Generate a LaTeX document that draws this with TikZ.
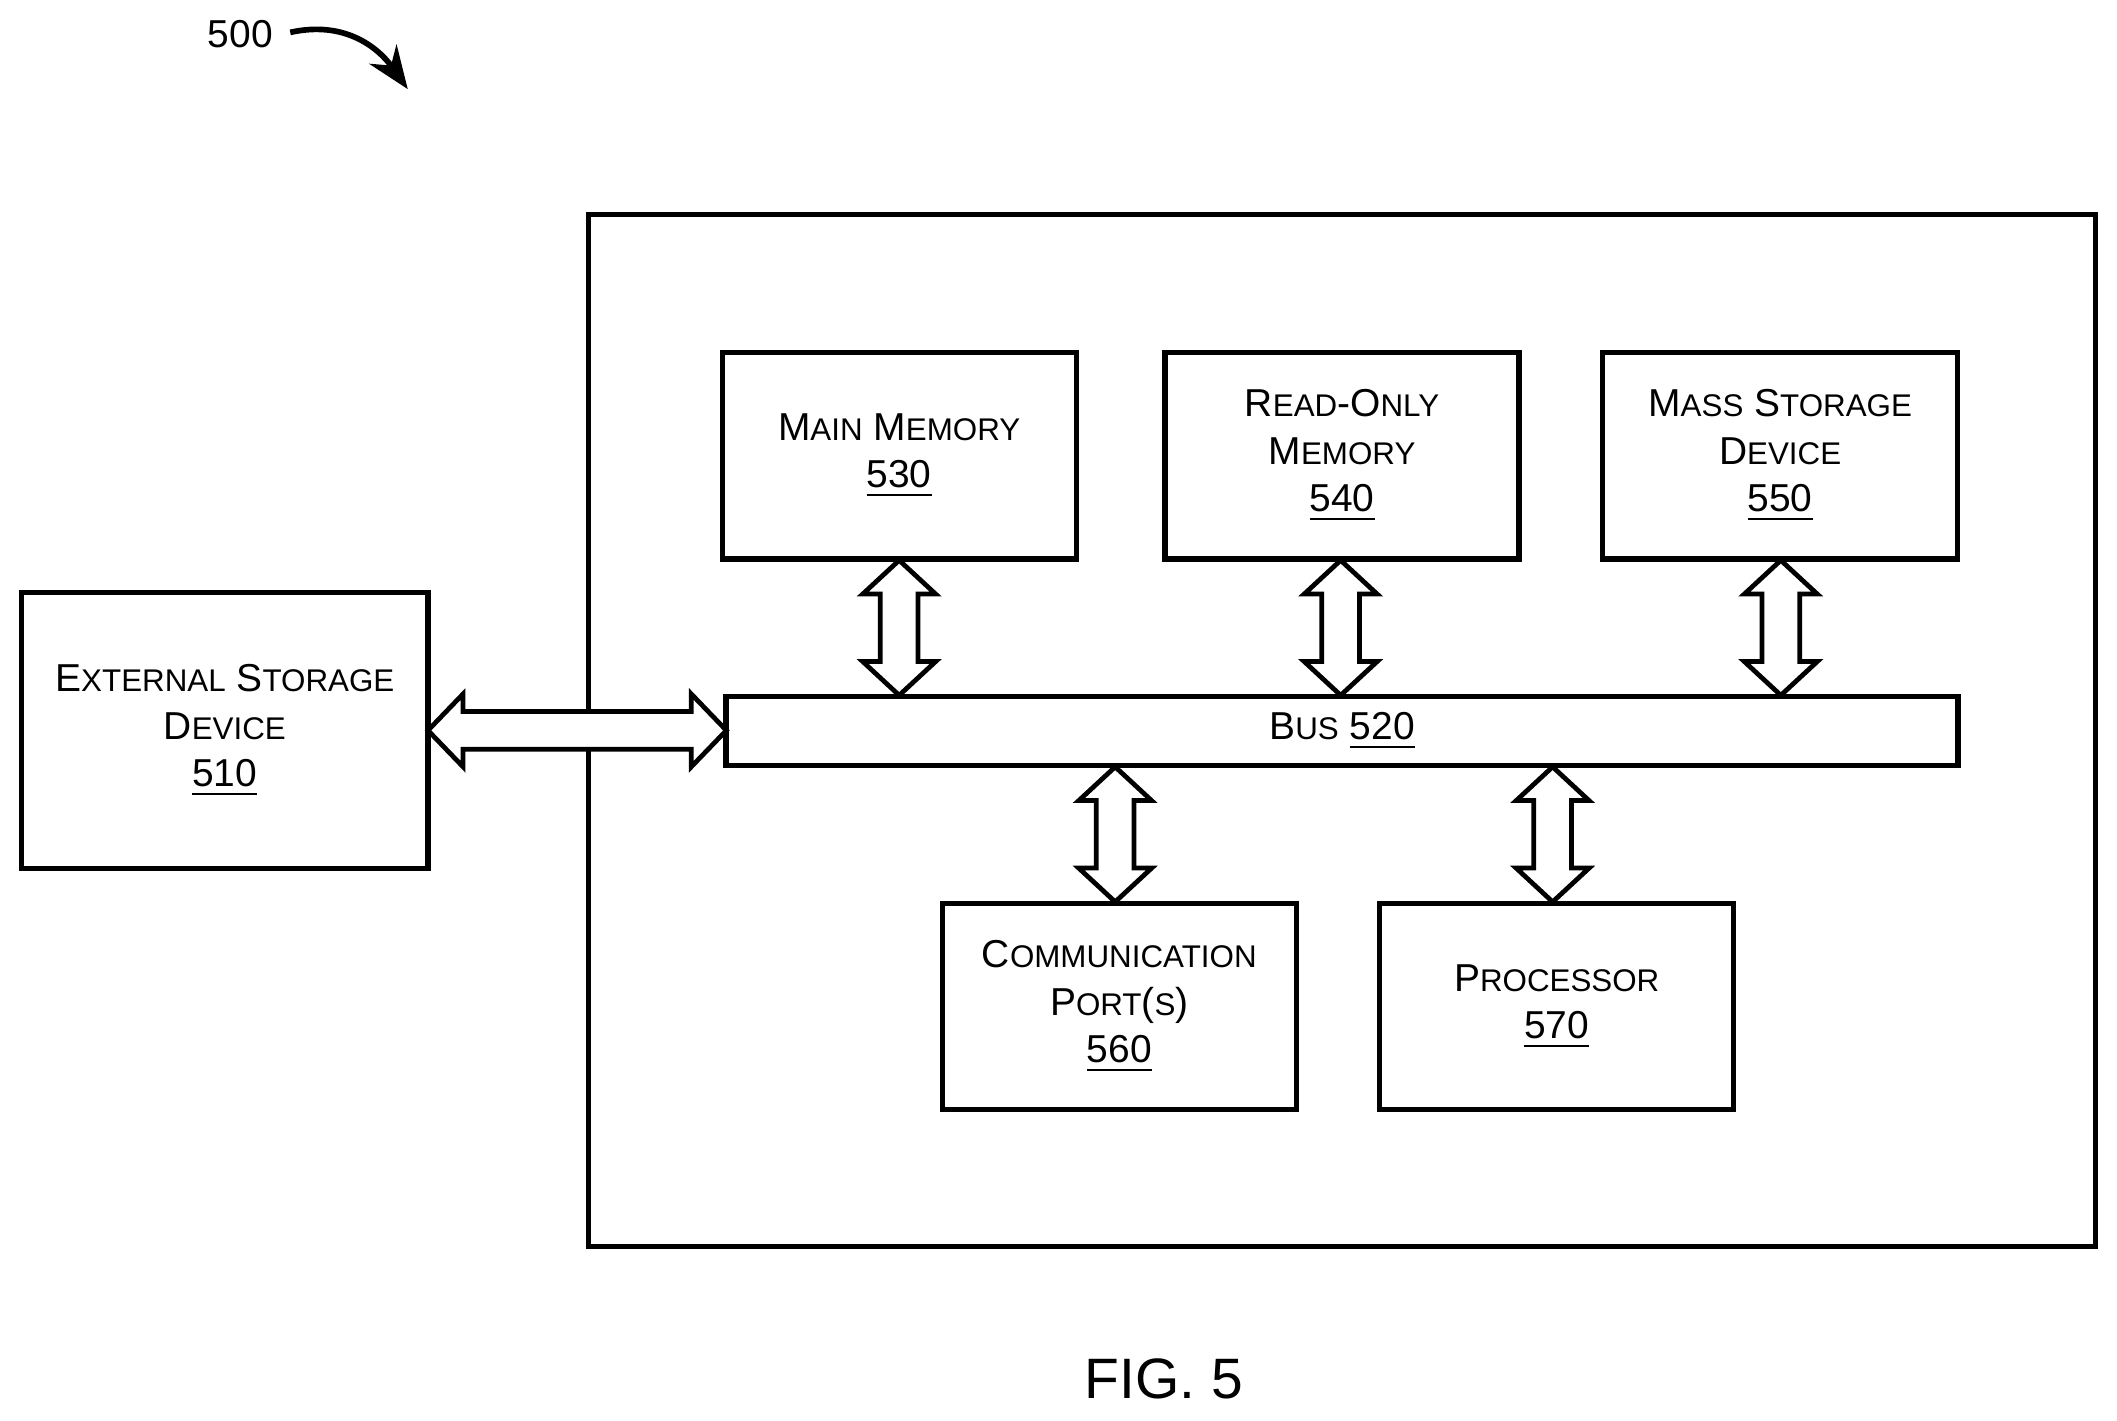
\documentclass[tikz,border=0pt]{standalone}
\usepackage{fontspec}
\setmainfont{Liberation Sans}
\usetikzlibrary{calc,arrows.meta}
\newcommand\sm[1]{{\fontsize{6.6}{10}\selectfont #1}}
\begin{document}
\begin{tikzpicture}[x=0.01cm,y=-0.01cm,line width=1pt,
  box/.style={draw,line width=1.1pt,align=center,font=\fontsize{8.2}{10}\selectfont},
  dbl/.style={draw,line width=1pt,fill=white,line join=miter}]
\useasboundingbox (0,0) rectangle (1568,1052);
\draw[line width=1.1pt] (436,159) rectangle (1552,923);
\node[box,minimum width=2.62cm,minimum height=1.53cm] (mm) at (666,337.5) {M\sm{AIN} M\sm{EMORY}\\\underline{530}};
\node[box,minimum width=2.62cm,minimum height=1.53cm] (rom) at (994,337.5) {R\sm{EAD}-O\sm{NLY}\\M\sm{EMORY}\\\underline{540}};
\node[box,minimum width=2.63cm,minimum height=1.53cm] (ms) at (1318.5,337.5) {M\sm{ASS} S\sm{TORAGE}\\D\sm{EVICE}\\\underline{550}};
\node[box,minimum width=9.12cm,minimum height=0.51cm] (bus) at (994,541.5) {B\sm{US} \underline{520}};
\node[box,minimum width=2.62cm,minimum height=1.53cm] (cp) at (829,745.5) {C\sm{OMMUNICATION}\\P\sm{ORT}(\sm{S})\\\underline{560}};
\node[box,minimum width=2.62cm,minimum height=1.53cm] (pr) at (1153,745.5) {P\sm{ROCESSOR}\\\underline{570}};
\node[box,minimum width=3.01cm,minimum height=2.04cm] (ext) at (166.5,541) {E\sm{XTERNAL} S\sm{TORAGE}\\D\sm{EVICE}\\\underline{510}};
% vertical double arrows
\foreach \c/\a/\b in {666/415/515, 993/415/515, 1319/415/515, 826/568/668, 1150/568/668}{
  \draw[dbl] (\c,\a) -- (\c+27,\a+25) -- (\c+14,\a+25) -- (\c+14,\b-25) -- (\c+27,\b-25) -- (\c,\b)
    -- (\c-27,\b-25) -- (\c-14,\b-25) -- (\c-14,\a+25) -- (\c-27,\a+25) -- cycle;}
% horizontal double arrow
\draw[dbl] (317,541) -- (343,514) -- (343,527) -- (512,527) -- (512,514) -- (538,541)
  -- (512,568) -- (512,555) -- (343,555) -- (343,568) -- cycle;
\node[font=\fontsize{8.2}{10}\selectfont] (lbl) at (178,25) {500};
\coordinate (tip) at (302,66);
\draw[line width=1.2pt,-{Stealth[length=9pt,width=7pt]}] (215,24) .. controls (255,15) and (280,35) .. (tip);
\node[font=\fontsize{12}{14}\selectfont] (fig) at (862,1021) {FIG. 5};
\end{tikzpicture}
\end{document}
